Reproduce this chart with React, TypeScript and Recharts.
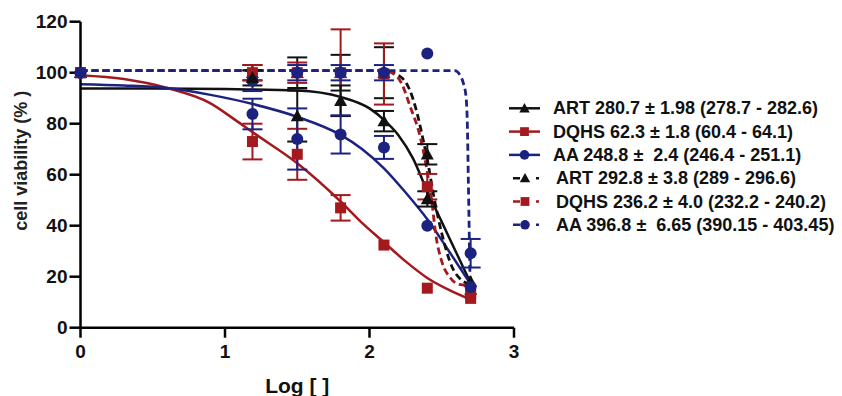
import {
  ComposedChart, ErrorBar, Line, Scatter, XAxis, YAxis,
} from "recharts";

// log concentrations of the dilution series (0 = untreated control)
const LOG_X = [0, 1.19, 1.5, 1.8, 2.1, 2.4, 2.7];

// measured viability (%) and SD, solid = first set, dashed = second set
const ART_A = [100, 98, 83, 89, 81, 50.5, 18];
const ART_A_SD = [0, 3, 10, 6, 4, 3, 0];
const DQHS_A = [100, 73, 68, 47, 32.4, 15.5, 11.5];
const DQHS_A_SD = [0, 7, 10, 5, 0, 0, 0];
const AA_A = [100, 83.8, 74, 75.8, 70.7, 40, 16];
const AA_A_SD = [0, 6, 12, 7.5, 4.5, 0, 0];

const ART_B = [100, 100, 100, 100, 100, 68, 15];
const ART_B_SD = [0, 3, 6, 7, 10, 4, 0];
const DQHS_B = [100, 100, 100, 100, 99.5, 55.3, 13];
const DQHS_B_SD = [0, 3, 4, 17, 12, 5, 0];
const AA_B = [100, 96.8, 100, 100, 100, 107.5, 29.2];
const AA_B_SD = [0, 4, 3, 3, 3, 0, 5.6];

// fitted curves
const ART_A_FIT_X = [0, 0.5, 1.0, 1.5, 1.8, 2.0, 2.1, 2.2, 2.3, 2.4, 2.5, 2.6, 2.7];
const ART_A_FIT_Y = [93.8, 93.8, 93.6, 93, 90.5, 86, 81.5, 75.5, 66.5, 53.5, 41.5, 29.5, 17.5];
const DQHS_A_FIT_X = [0, 0.3, 0.6, 0.9, 1.07, 1.2, 1.5, 1.8, 1.95, 2.1, 2.25, 2.4, 2.55, 2.7];
const DQHS_A_FIT_Y = [99, 97.5, 94, 88, 81.5, 76.3, 64.5, 49.5, 41, 33.5, 26, 19.5, 14.8, 11];
const AA_A_FIT_X = [0, 0.3, 0.6, 0.9, 1.2, 1.5, 1.8, 1.95, 2.1, 2.25, 2.4, 2.55, 2.7];
const AA_A_FIT_Y = [95.5, 95, 94, 91.3, 87.6, 82.7, 75.6, 70, 62.5, 53, 42.5, 30, 17];

const ART_B_FIT_X = [0, 2.1, 2.2, 2.28, 2.33, 2.37, 2.4, 2.44, 2.5, 2.57, 2.63, 2.7];
const ART_B_FIT_Y = [100.8, 100.8, 99, 93, 84, 74, 66, 53, 37, 24, 19, 17];
const DQHS_B_FIT_X = [0, 2.1, 2.17, 2.22, 2.28, 2.35, 2.4, 2.43, 2.46, 2.5, 2.56, 2.62, 2.7];
const DQHS_B_FIT_Y = [100.8, 100.8, 99.5, 96, 87, 75, 61, 50, 36, 26, 19.5, 17, 16.5];
const AA_B_FIT_X = [0, 2.59, 2.627, 2.65, 2.668, 2.677, 2.684, 2.69, 2.695, 2.7];
const AA_B_FIT_Y = [100.8, 100.8, 99, 95.8, 90.6, 80, 58, 38, 22, 16];

const LEGEND = [
  "ART 280.7 ± 1.98 (278.7 - 282.6)",
  "DQHS 62.3 ± 1.8 (60.4 - 64.1)",
  "AA 248.8 ±  2.4 (246.4 - 251.1)",
  "ART 292.8 ± 3.8 (289 - 296.6)",
  "DQHS 236.2 ± 4.0 (232.2 - 240.2)",
  "AA 396.8 ±  6.65 (390.15 - 403.45)",
];

const BLACK = "#111111";
const RED = "#a3191e";
const BLUE = "#1c2280";
const FONT = "'Liberation Sans', Arial, sans-serif";

const pts = (ys: number[], sd: number[]) => LOG_X.map((x, i) => ({ x, y: ys[i], e: sd[i] }));
const fit = (xs: number[], ys: number[]) => xs.map((x, i) => ({ x, y: ys[i] }));

type Kind = "tri" | "sq" | "dot";

function Marker({ kind, cx, cy, color, s = 1 }: { kind: Kind; cx: number; cy: number; color: string; s?: number }) {
  if (kind === "tri") {
    const h = 6.5 * s;
    return <path d={`M${cx},${cy - h} L${cx + h},${cy + h * 0.8} L${cx - h},${cy + h * 0.8} Z`} fill={color} />;
  }
  if (kind === "sq") {
    const h = 5.5 * s;
    return <rect x={cx - h} y={cy - h} width={2 * h} height={2 * h} fill={color} />;
  }
  return <circle cx={cx} cy={cy} r={6 * s} fill={color} />;
}

const shape = (kind: Kind, color: string) => (p: any) => <Marker kind={kind} cx={p.cx} cy={p.cy} color={color} />;

function YLabel(props: any) {
  const { x, y, height } = props.viewBox;
  const cx = x + 21;
  const cy = y + height / 2 - 14;
  return (
    <text
      x={cx} y={cy} transform={`rotate(-90, ${cx}, ${cy})`}
      textAnchor="middle" dominantBaseline="central"
      fontFamily={FONT} fontSize={18} fontWeight="bold" fill="#222"
    >
      cell viability (% )
    </text>
  );
}

const SERIES: { kind: Kind; color: string; dashed: boolean }[] = [
  { kind: "tri", color: BLACK, dashed: false },
  { kind: "sq", color: RED, dashed: false },
  { kind: "dot", color: BLUE, dashed: false },
  { kind: "tri", color: BLACK, dashed: true },
  { kind: "sq", color: RED, dashed: true },
  { kind: "dot", color: BLUE, dashed: true },
];

function LegendBox() {
  return (
    <svg width={337} height={150} style={{ position: "absolute", left: 505, top: 95 }}>
      {SERIES.map((s, i) => {
        const cy = 13.3 + i * 23.3;
        return (
          <g key={i}>
            {s.dashed ? (
              <line x1={8} x2={39} y1={cy} y2={cy} stroke={s.color} strokeWidth={2.5} strokeDasharray="7 16 3 10" />
            ) : (
              <line x1={4} x2={35} y1={cy} y2={cy} stroke={s.color} strokeWidth={2.5} />
            )}
            <Marker kind={s.kind} cx={s.dashed ? 20 : 19.5} cy={cy} color={s.color} s={0.8} />
            <text
              x={s.dashed ? 51 : 48} y={cy} dominantBaseline="central"
              fontFamily={FONT} fontSize={18} fontWeight="bold" fill="#111"
              style={{ whiteSpace: "pre" }}
            >
              {LEGEND[i]}
            </text>
          </g>
        );
      })}
    </svg>
  );
}

export default function App() {
  const tickStyle = { fill: "#111", fontSize: 19, fontWeight: "bold", fontFamily: FONT };
  return (
    <div style={{ position: "absolute", left: 0, top: 0, width: 842, height: 396, background: "#fff" }}>
      <ComposedChart width={842} height={396} margin={{ top: 21.7, right: 328, bottom: 0, left: 0 }}>
        <XAxis
          dataKey="x" type="number" domain={[0, 3]} ticks={[0, 1, 2, 3]}
          height={68.3} tick={tickStyle} tickSize={10} tickMargin={7}
          axisLine={{ stroke: "#000", strokeWidth: 2.5 }}
          tickLine={{ stroke: "#000", strokeWidth: 2.5 }}
          label={{
            value: "Log [ ]", position: "insideBottom", offset: 3,
            fill: "#111", fontSize: 21, fontWeight: "bold", fontFamily: FONT,
          }}
        />
        <YAxis
          type="number" domain={[0, 120]} ticks={[0, 20, 40, 60, 80, 100, 120]}
          width={80.5} tick={tickStyle} tickSize={11} tickMargin={2}
          axisLine={{ stroke: "#000", strokeWidth: 2.5 }}
          tickLine={{ stroke: "#000", strokeWidth: 2.5 }}
          label={{ content: YLabel }}
        />

        <Line data={fit(ART_A_FIT_X, ART_A_FIT_Y)} dataKey="y" type="monotone" stroke={BLACK} strokeWidth={2.5} dot={false} isAnimationActive={false} />
        <Line data={fit(DQHS_A_FIT_X, DQHS_A_FIT_Y)} dataKey="y" type="monotone" stroke={RED} strokeWidth={2.5} dot={false} isAnimationActive={false} />
        <Line data={fit(AA_A_FIT_X, AA_A_FIT_Y)} dataKey="y" type="monotone" stroke={BLUE} strokeWidth={2.5} dot={false} isAnimationActive={false} />
        <Line data={fit(ART_B_FIT_X, ART_B_FIT_Y)} dataKey="y" type="monotone" stroke={BLACK} strokeWidth={2.8} strokeDasharray="7 4" dot={false} isAnimationActive={false} />
        <Line data={fit(DQHS_B_FIT_X, DQHS_B_FIT_Y)} dataKey="y" type="monotone" stroke={RED} strokeWidth={2.8} strokeDasharray="7 4" dot={false} isAnimationActive={false} />
        <Line data={fit(AA_B_FIT_X, AA_B_FIT_Y)} dataKey="y" type="monotone" stroke={BLUE} strokeWidth={2.8} strokeDasharray="7 4" dot={false} isAnimationActive={false} />

        <Scatter data={pts(ART_B, ART_B_SD)} dataKey="y" shape={shape("tri", BLACK)} isAnimationActive={false}>
          <ErrorBar dataKey="e" direction="y" width={10} stroke={BLACK} strokeWidth={2} isAnimationActive={false} />
        </Scatter>
        <Scatter data={pts(DQHS_B, DQHS_B_SD)} dataKey="y" shape={shape("sq", RED)} isAnimationActive={false}>
          <ErrorBar dataKey="e" direction="y" width={10} stroke={RED} strokeWidth={2} isAnimationActive={false} />
        </Scatter>
        <Scatter data={pts(AA_B, AA_B_SD)} dataKey="y" shape={shape("dot", BLUE)} isAnimationActive={false}>
          <ErrorBar dataKey="e" direction="y" width={10} stroke={BLUE} strokeWidth={2} isAnimationActive={false} />
        </Scatter>
        <Scatter data={pts(ART_A, ART_A_SD)} dataKey="y" shape={shape("tri", BLACK)} isAnimationActive={false}>
          <ErrorBar dataKey="e" direction="y" width={10} stroke={BLACK} strokeWidth={2} isAnimationActive={false} />
        </Scatter>
        <Scatter data={pts(DQHS_A, DQHS_A_SD)} dataKey="y" shape={shape("sq", RED)} isAnimationActive={false}>
          <ErrorBar dataKey="e" direction="y" width={10} stroke={RED} strokeWidth={2} isAnimationActive={false} />
        </Scatter>
        <Scatter data={pts(AA_A, AA_A_SD)} dataKey="y" shape={shape("dot", BLUE)} isAnimationActive={false}>
          <ErrorBar dataKey="e" direction="y" width={10} stroke={BLUE} strokeWidth={2} isAnimationActive={false} />
        </Scatter>
      </ComposedChart>
      <LegendBox />
    </div>
  );
}
